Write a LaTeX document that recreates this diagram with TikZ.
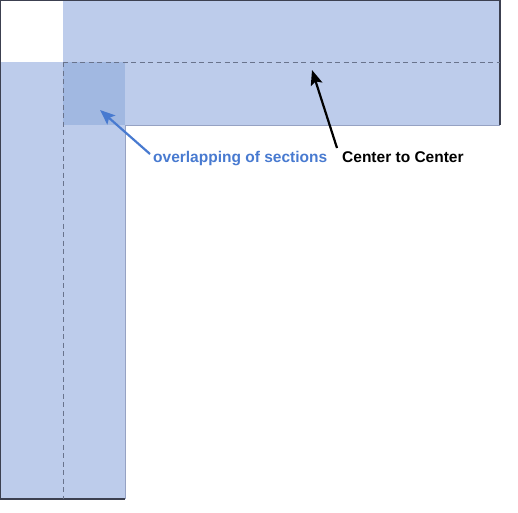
\documentclass[tikz,border=0pt]{standalone}
\usepackage{fontspec}
\setmainfont{Liberation Sans}
\usetikzlibrary{arrows.meta}
\definecolor{barfill}{RGB}{189,204,235}
\definecolor{overfill}{RGB}{161,184,225}
\definecolor{darkedge}{RGB}{60,64,80}
\definecolor{lightedge}{RGB}{150,162,195}
\definecolor{dashcol}{RGB}{105,115,140}
\definecolor{bluetext}{RGB}{72,122,208}
\tikzset{
  bar/.style={fill=barfill, draw=none},
  centerline/.style={draw=dashcol, line width=1pt, dash pattern=on 5pt off 3.5pt},
  label/.style={font=\bfseries\fontsize{15.5}{18}\selectfont, inner sep=0pt, anchor=west},
  pointer/.style={line width=2.2pt, -{Stealth[length=15pt,width=12pt,inset=3pt]}}
}
\begin{document}
\begin{tikzpicture}[x=1pt,y=-1pt]
\useasboundingbox (0,0) rectangle (518,512);
% bars
\fill[barfill] (63,0) rectangle (500,125);
\fill[barfill] (0,62) rectangle (125,499);
\fill[overfill] (63,62) rectangle (125,125);
% edges
\draw[lightedge, line width=1pt] (125,125) -- (500,125);
\draw[lightedge, line width=1pt] (125,125) -- (125,499);
\draw[darkedge, line width=1.2pt] (0,499) -- (0,0) -- (500,0) -- (500,125);
\draw[darkedge, line width=1.2pt] (0,499) -- (125,499);
% center lines
\draw[centerline] (63,62) -- (500,62);
\draw[centerline] (63,62) -- (63,499);
% labels
\node[label, text=bluetext] (ov) at (153,159) {overlapping of sections};
\node[label, text=black] (cc) at (342,157.5) {Center to Center};
\coordinate (ovtip) at (100,110);
\coordinate (cctip) at (312,70);
\coordinate (ovtail) at (150,154);
\coordinate (cctail) at (337,148);
\draw[pointer, draw=bluetext, fill=bluetext] (ovtail) -- (ovtip);
\draw[pointer, draw=black, fill=black] (cctail) -- (cctip);
\end{tikzpicture}
\end{document}
